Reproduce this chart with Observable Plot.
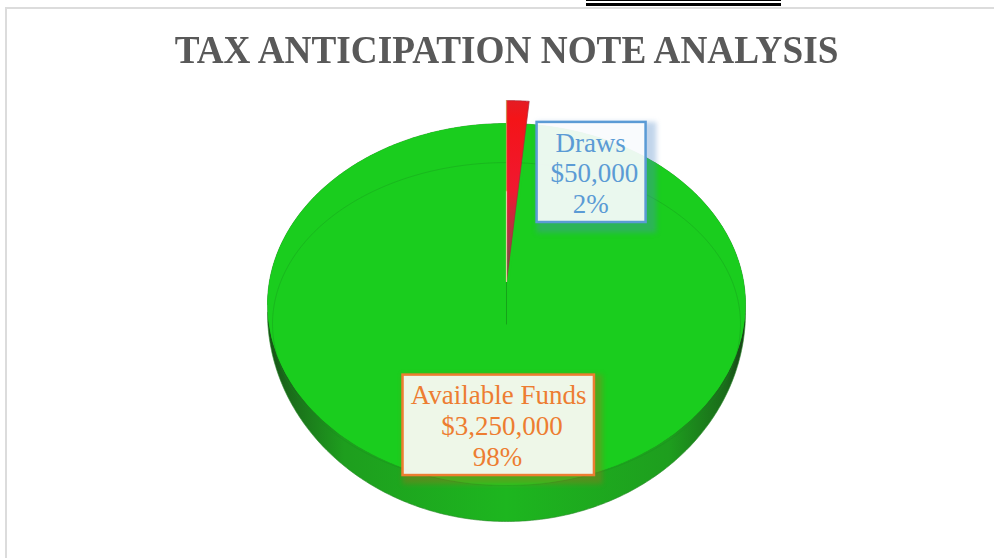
<!DOCTYPE html>
<html>
<head>
<meta charset="utf-8">
<script src="https://cdn.jsdelivr.net/npm/d3@7"></script>
<script src="https://cdn.jsdelivr.net/npm/@observablehq/plot@0.6"></script>
<style>
  html, body { margin: 0; padding: 0; background: #fff; overflow: hidden; }
  #page { position: relative; width: 994px; height: 558px; overflow: hidden; }
  #page .frameTop { position: absolute; left: 5px; right: 0; top: 7px; height: 2px; background: #dcdcdc; }
  #page .frameLeft { position: absolute; left: 5px; top: 7px; bottom: 0; width: 2px; background: #dcdcdc; }
  #page .barA { position: absolute; left: 586px; width: 195px; top: 0; height: 1px; background: #000; }
  #page .barB { position: absolute; left: 586px; width: 195px; top: 3px; height: 3px; background: #000; }
  #title { position: absolute; left: 0; width: 1013px; top: 26px; text-align: center; margin: 0;
           font: bold 41px "Liberation Serif", serif; color: #595959; line-height: 46px; white-space: nowrap;
           transform: scaleX(0.908); transform-origin: 506.5px 0; }
  #chart { position: absolute; left: 0; top: 80px; }
  #chart svg { display: block; background: transparent; }
</style>
</head>
<body>
<div id="page">
  <div class="frameTop"></div><div class="frameLeft"></div>
  <div class="barA"></div><div class="barB"></div>
  <h1 id="title">TAX ANTICIPATION NOTE ANALYSIS</h1>
  <div id="chart"></div>
</div>
<script>
// Data
const categories = ["Draws", "Available Funds"];
const amounts = [50000, 3250000];
const sliceColors = ["url(#redFace)", "#1acd1e"];

// Pie geometry, in pie units (top face radius = 1)
const wallShift = -0.044, wallRy = 1.155;
const explode = 0.127;
const rimShift = -0.108, rimRx = 0.979, rimRy = 0.892;

const total = d3.sum(amounts);
const arcs = d3.pie().sort(null).value(d => d)(amounts);
const N = 240;
const sweep = (a0, a1, n, f) => d3.range(n + 1).map(i => f(a0 + (a1 - a0) * i / n));
const onEllipse = (rx, ry, cy) => a => ({x: rx * Math.sin(a), y: cy + ry * Math.cos(a)});

// Side wall: upper half of the top edge closed by the lower half of the bottom edge
const wall = [
  ...sweep(-Math.PI / 2, Math.PI / 2, N, onEllipse(1, 1, 0)),
  ...sweep(Math.PI / 2, Math.PI * 3 / 2, N, onEllipse(1, wallRy, wallShift))
];
// Space left behind by the pulled-out slice is still green wall
const face = sweep(0, 2 * Math.PI, N * 2, onEllipse(1, 1, 0));
const rim = sweep(0, 2 * Math.PI, N * 2, onEllipse(rimRx, rimRy, rimShift));

const sectors = arcs.map((a, i) => {
  const lift = i === 0 ? explode : 0;
  const pts = [{x: 0, y: lift}, ...sweep(a.startAngle, a.endAngle, 60, onEllipse(1, 1, lift)), {x: 0, y: lift}];
  return pts.map(p => ({...p, key: categories[i], fill: sliceColors[i]}));
});
const drawSlice = sectors[0];

// Label boxes
const boxes = [
  {x1: 0.128, x2: 0.584, y1: 0.453, y2: 1.006, stroke: "#5b9bd5", shadow: "#4f86c6", sx: 0.045, sy: -0.06, i: 0},
  {x1: -0.433, x2: 0.368, y1: -0.945, y2: -0.39, stroke: "#ed7d31", shadow: "#b5651d", sx: 0.035, sy: -0.05, i: 1}
];
const lineOffsets = [[[0.352, 0.892], [0.368, 0.725], [0.352, 0.554]], [[-0.033, -0.5], [-0.019, -0.671], [-0.038, -0.842]]];
const labelLines = boxes.flatMap(b => {
  const lines = [categories[b.i], d3.format("$,")(amounts[b.i]), d3.format(".0%")(amounts[b.i] / total)];
  return lines.map((text, j) => ({text, x: lineOffsets[b.i][j][0], y: lineOffsets[b.i][j][1], color: b.stroke}));
});

function gradients() {
  const defs = document.createElementNS("http://www.w3.org/2000/svg", "defs");
  defs.innerHTML = `
    <linearGradient id="wallGrad" x1="0" x2="1" y1="0" y2="0">
      <stop offset="0" stop-color="#174f17"/><stop offset="0.04" stop-color="#1a6a1a"/>
      <stop offset="0.16" stop-color="#1e9e1e"/><stop offset="0.5" stop-color="#1db61f"/>
      <stop offset="0.84" stop-color="#1e9e1e"/><stop offset="0.96" stop-color="#1a6a1a"/>
      <stop offset="1" stop-color="#174017"/>
    </linearGradient>
    <linearGradient id="redFace" x1="0" x2="0" y1="0" y2="1">
      <stop offset="0" stop-color="#e41c24"/><stop offset="0.1" stop-color="#f41418"/>
      <stop offset="0.5" stop-color="#f01830"/><stop offset="0.78" stop-color="#a83848"/>
      <stop offset="1" stop-color="#4a6a40"/>
    </linearGradient>`;
  return defs;
}

const plot = Plot.plot({
  width: 994,
  height: 478,
  margin: 0,
  axis: null,
  x: {domain: [-1, 1], range: [267, 745]},
  y: {domain: [-1, 1], range: [405, 43]},
  marks: [
    gradients,
    Plot.line(wall, {x: "x", y: "y", fill: "url(#wallGrad)", stroke: "#2a8a2a", strokeWidth: 0.6}),
    Plot.line(face, {x: "x", y: "y", fill: sliceColors[1], stroke: "none"}),
    Plot.line(sectors[1], {x: "x", y: "y", fill: "fill", stroke: "none"}),
    Plot.line(rim, {x: "x", y: "y", stroke: "#178a1c", strokeWidth: 0.8, strokeOpacity: 0.4}),
    Plot.line([{x: 0, y: rimShift}, {x: 0, y: explode}], {x: "x", y: "y", stroke: "#0f7a14", strokeWidth: 1, strokeOpacity: 0.5}),
    Plot.line(drawSlice, {x: "x", y: "y", fill: "fill", stroke: "#a8283a", strokeWidth: 0.7}),
    Plot.line([{x: 0, y: explode}, {x: 0, y: 0.5 + explode}], {x: "x", y: "y", stroke: "#eee2b0", strokeWidth: 1.2, strokeOpacity: 0.85}),
    Plot.line([{x: 0, y: 0.5 + explode}, {x: 0, y: 1 + explode}], {x: "x", y: "y", stroke: "#d8a050", strokeWidth: 1.2, strokeOpacity: 0.75}),
    Plot.rect(boxes, {
      x1: d => d.x1, x2: d => d.x2 + d.sx, y1: d => d.y1 + d.sy, y2: d => d.y2,
      fill: "shadow", fillOpacity: 0.35, imageFilter: "blur(2.5px)"
    }),
    Plot.rect(boxes, {
      x1: "x1", x2: "x2", y1: "y1", y2: "y2",
      fill: "#ffffff", fillOpacity: 0.9, stroke: "stroke", strokeWidth: 2.5
    }),
    Plot.text(labelLines, {
      x: "x", y: "y", text: "text", fill: "color",
      fontFamily: "Liberation Serif", fontSize: 27, textAnchor: "middle"
    })
  ]
});
document.getElementById("chart").append(plot);
</script>
</body>
</html>
